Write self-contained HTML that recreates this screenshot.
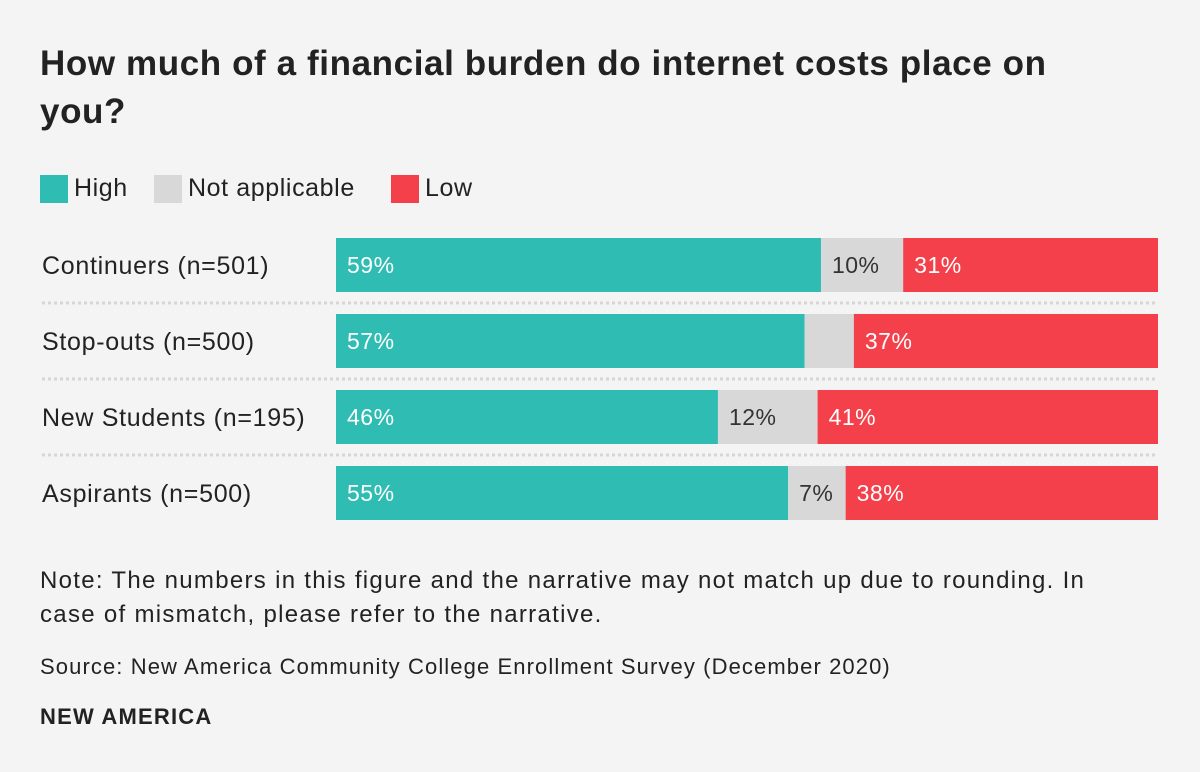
<!DOCTYPE html>
<html><head><meta charset="utf-8"><style>
body{margin:0;width:1200px;height:772px;background:#f4f4f4;font-family:"Liberation Sans",sans-serif;color:#222;overflow:hidden;position:relative}
.t{position:absolute;left:40px;top:40px;width:1090px;font-size:35px;font-weight:bold;line-height:48px;color:#222;letter-spacing:0.6px}
.leg{position:absolute;top:174px;font-size:25px;letter-spacing:0.6px;display:flex;align-items:center}
.sw{width:28px;height:28px;margin-right:6px;display:inline-block}
.note{position:absolute;left:40px;top:564px;width:1108px;font-size:24px;line-height:34px;letter-spacing:1.3px}
.src{position:absolute;left:40px;top:654px;font-size:22px;letter-spacing:1.1px}
.brand{position:absolute;left:40px;top:704px;font-size:22px;font-weight:bold;letter-spacing:1.2px}
</style></head><body>
<div class="t">How much of a financial burden do internet costs place on you?</div>
<div class="leg" style="left:40px"><span class="sw" style="background:#2fbcb2"></span>High</div>
<div class="leg" style="left:154px"><span class="sw" style="background:#d8d8d8"></span>Not applicable</div>
<div class="leg" style="left:391px"><span class="sw" style="background:#f4404a"></span>Low</div>
<svg id="c" width="1200" height="772" style="position:absolute;left:0;top:0"></svg>
<div class="note">Note: The numbers in this figure and the narrative may not match up due to rounding. In case of mismatch, please refer to the narrative.</div>
<div class="src">Source: New America Community College Enrollment Survey (December 2020)</div>
<div class="brand">NEW AMERICA</div>
<script>
const categories=["Continuers (n=501)","Stop-outs (n=500)","New Students (n=195)","Aspirants (n=500)"];
const high=[59,57,46,55];
const na=[10,6,12,7];
const low=[31,37,41,38];
const svg=document.getElementById('c');const NS="http://www.w3.org/2000/svg";
const x0=336,w=822,y0=238,step=76,bh=54;
function mk(t,a){const e=document.createElementNS(NS,t);for(const k in a)e.setAttribute(k,a[k]);svg.appendChild(e);return e;}
const series=[[high,"#2fbcb2","#fff","high",false],[na,"#d8d8d8","#333","not-applicable",true],[low,"#f4404a","#fff","low",false]];
categories.forEach((c,i)=>{
 const y=y0+i*step;const tot=high[i]+na[i]+low[i];
 const lb=mk('text',{x:42,y:y+bh/2+9,'font-size':25,'letter-spacing':0.7,fill:'#222'});lb.textContent=c;
 
 
 if(i>0){const ln=mk('line',{x1:42,x2:1158,y1:y-11,y2:y-11,stroke:'#d6d6d6','stroke-width':3,'stroke-dasharray':'3 3'});
 
 }
 let cx=x0;
 series.forEach(s=>{
  const v=s[0][i];const bw=v/tot*w;
  const r=mk('rect',{x:cx,y:y,width:bw,height:bh,fill:s[1]});
  
  
  if(!(s[4]&&v<7)){const t=mk('text',{x:cx+11,y:y+bh/2+8,'font-size':23,'letter-spacing':0.5,fill:s[2]});t.textContent=v+'%';
  
  }
  cx+=bw;
 });
});
</script>
</body></html>
